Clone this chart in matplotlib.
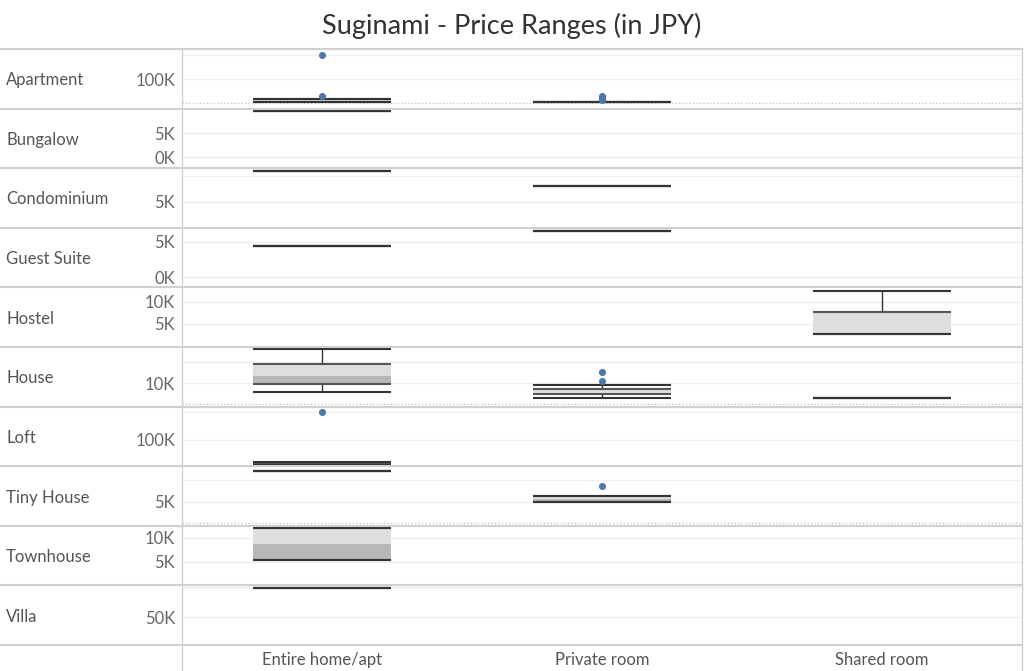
import matplotlib
matplotlib.use("Agg")
from matplotlib import pyplot as plt
from matplotlib.lines import Line2D
from matplotlib.patches import Rectangle

plt.rcParams['font.family'] = ['Lato', 'DejaVu Sans']

properties = ["Apartment", "Bungalow", "Condominium", "Guest Suite", "Hostel",
              "House", "Loft", "Tiny House", "Townhouse", "Villa"]
room_types = ["Entire home/apt", "Private room", "Shared room"]

# per-row axis setup (values in K JPY)
row_grid = [[100, 200], [0, 5], [5, 10], [0, 5], [5, 10],
            [10, 20], [100, 200], [5, 10], [5, 10], [50, 100]]
row_labels = [[100], [0, 5], [5], [0, 5], [5, 10],
              [10], [100], [5], [5, 10], [50]]
row_zero_line = ["Apartment", "House", "Tiny House"]
# (y of zero inside the pane in px, px per 1K) -> converted to ylim below
row_zero_px = [102.5, 157, 228, 277, 346, 404, 467.5, 523, 586, 647]
row_px_per_k = [0.235, 4.8, 5.2, 7.0, 4.4, 2.1, 0.28, 4.3, 4.8, 0.6]

# box statistics (K JPY)
box_prop = ["Apartment", "Apartment", "Bungalow", "Condominium", "Condominium",
            "Guest Suite", "Guest Suite", "Hostel", "House", "House", "House",
            "Loft", "Tiny House", "Tiny House", "Townhouse", "Villa"]
box_room = ["Entire home/apt", "Private room", "Entire home/apt", "Entire home/apt", "Private room",
            "Entire home/apt", "Private room", "Shared room", "Entire home/apt", "Private room", "Shared room",
            "Entire home/apt", "Entire home/apt", "Private room", "Entire home/apt", "Entire home/apt"]
box_lo = [1, 3.5, 9.6, 11.0, 8.1, 4.5, 6.6, 2.7, 5.9, 2.7, 2.9, 10, 12.2, 4.9, 5.5, 98]
box_q1 = [4, 3.5, 9.6, 11.0, 8.1, 4.5, 6.6, 2.7, 9.4, 4.6, 2.9, 11, 12.2, 4.9, 5.5, 98]
box_med = [8, 3.5, 9.6, 11.0, 8.1, 4.5, 6.6, 2.7, 13.3, 4.6, 2.9, 14, 12.2, 5.6, 8.75, 98]
box_q3 = [13, 3.5, 9.6, 11.0, 8.1, 4.5, 6.6, 7.7, 18.9, 7.0, 2.9, 17, 12.2, 6.2, 12.1, 98]
box_hi = [15, 3.5, 9.6, 11.0, 8.1, 4.5, 6.6, 12.6, 26.0, 9.0, 2.9, 18.6, 12.2, 6.2, 12.1, 98]

out_prop = ["Apartment", "Apartment", "Apartment", "Apartment", "Apartment",
            "House", "House", "Loft", "Tiny House"]
out_room = ["Entire home/apt", "Entire home/apt", "Private room", "Private room", "Private room",
            "Private room", "Private room", "Entire home/apt", "Private room"]
out_val = [200, 29, 27, 20, 12, 15.2, 11.0, 198, 8.5]

W, H = 1024, 671
fig = plt.figure(figsize=(W / 100, H / 100), dpi=100)
fig.patch.set_facecolor('white')

fig.text(512 / W, 1 - 26 / H, "Suginami - Price Ranges (in JPY)", ha='center', va='center',
         fontsize=19.5, color='#333333')

top0, row_h = 49, 59.6
x_left, x_right = 182, 1022
half = 0.246
line_c = '#333333'

axes = {}
for i, prop in enumerate(properties):
    top = top0 + i * row_h
    bot = top + row_h
    ax = fig.add_axes([x_left / W, 1 - bot / H, (x_right - x_left) / W, row_h / H])
    z, s = row_zero_px[i], row_px_per_k[i]
    ax.set_ylim((z - bot) / s, (z - top) / s)
    ax.set_xlim(-0.5, 2.5)
    for sp in ax.spines.values():
        sp.set_visible(False)
    ax.set_xticks([])
    ax.set_yticks(row_labels[i])
    ax.set_yticklabels([f"{v}K" for v in row_labels[i]])
    ax.tick_params(axis='y', length=0, pad=5, labelsize=12, labelcolor='#666666')
    for g in row_grid[i]:
        ax.axhline(g, color='#efefef', lw=1, zorder=0)
    if prop in row_zero_line:
        ax.axhline(0, color='#c8c8c8', lw=1, ls=(0, (1, 1.5)), zorder=0)
    ax.patch.set_alpha(0)
    axes[prop] = ax
    fig.text(6 / W, 1 - (top + row_h / 2 + 1.5) / H, prop, ha='left', va='center',
             fontsize=12, color='#555555')

for j in range(len(box_prop)):
    ax = axes[box_prop[j]]
    x = room_types.index(box_room[j])
    lo, q1, med, q3, hi = box_lo[j], box_q1[j], box_med[j], box_q3[j], box_hi[j]
    ax.add_patch(Rectangle((x - half, med), 2 * half, q3 - med, facecolor='#dedede',
                           edgecolor='none', clip_on=False, zorder=2))
    ax.add_patch(Rectangle((x - half, q1), 2 * half, med - q1, facecolor='#b8b8b8',
                           edgecolor='none', clip_on=False, zorder=2))
    ax.vlines(x, q3, hi, color=line_c, lw=1, clip_on=False, zorder=3)
    ax.vlines(x, lo, q1, color=line_c, lw=1, clip_on=False, zorder=3)
    ax.hlines([q1, q3], x - half, x + half, color='#555555', lw=1.5, clip_on=False, zorder=3)
    ax.hlines([lo, hi], x - half, x + half, color=line_c, lw=1.5, clip_on=False, zorder=4)

for j in range(len(out_val)):
    ax = axes[out_prop[j]]
    x = room_types.index(out_room[j])
    ax.scatter([x], [out_val[j]], s=26, color='#4e79a7', clip_on=False, zorder=5, linewidths=0)

# frame lines
for i in range(len(properties) + 1):
    y = 1 - (top0 + i * row_h) / H
    fig.add_artist(Line2D([0, x_right / W], [y, y], color='#d0d0d0', lw=1.5))
fig.add_artist(Line2D([x_left / W, x_left / W], [1 - top0 / H, 0], color='#d0d0d0', lw=1))
fig.add_artist(Line2D([x_right / W, x_right / W], [1 - top0 / H, 0], color='#d0d0d0', lw=1))

for k, rt in enumerate(room_types):
    cx = x_left + (k + 0.5) * (x_right - x_left) / 3
    fig.text(cx / W, 1 - 660 / H, rt, ha='center', va='center', fontsize=12, color='#555555')

fig.savefig("out.png", dpi=100)
